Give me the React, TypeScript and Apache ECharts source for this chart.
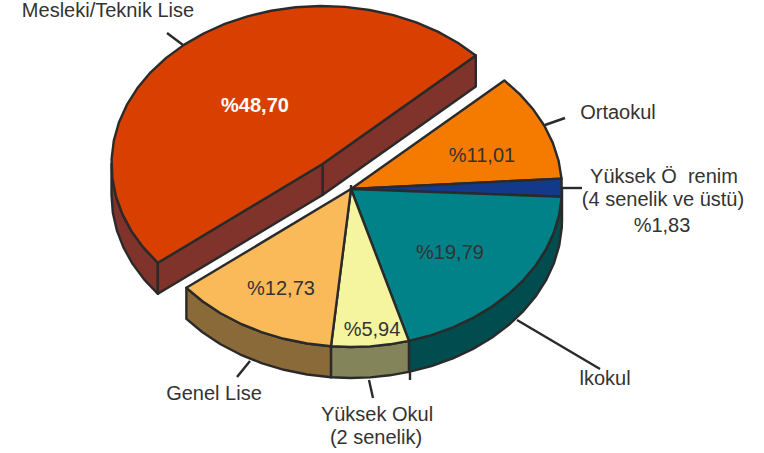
import React, { useEffect, useRef } from "react";
import * as echarts from "echarts";

const categories = ["Ortaokul", "Yüksek Ö  renim", "İlkokul", "Yüksek Okul", "Genel Lise", "Mesleki/Teknik Lise"];
const values = [11.01, 1.83, 19.79, 5.94, 12.73, 48.7];
const topColors = ["#F57A00", "#13398A", "#008288", "#F5F5A0", "#FABA5A", "#D94000"];
const sideColors = ["#7A3D00", "#0A1C45", "#004C4E", "#84845A", "#8A6A38", "#80332A"];
const valueLabelAt = [[482, 155], [662, 225], [450, 252], [372, 329], [281, 288], [255, 105]];
const valueLabelColors = ["#333333", "#333333", "#333333", "#333333", "#333333", "#FFFFFF"];
const nameLabels: [string, number, number][] = [
  ["Mesleki/Teknik Lise", 108, 10],
  ["Ortaokul", 618, 112],
  ["Yüksek Ö  renim", 664, 176],
  ["(4 senelik ve üstü)", 663, 199],
  ["lkokul", 605, 378],
  ["Genel Lise", 214, 393],
  ["Yüksek Okul", 377, 414],
  ["(2 senelik)", 376, 437],
];
const leaders = [
  [[167, 33], [183, 45]],
  [[545, 125], [565, 118]],
  [[562, 188], [582, 188]],
  [[517, 320], [600, 369]],
  [[250, 361], [237, 377]],
  [[369, 380], [373, 398]],
  [[410, 372], [410, 380]],
  [[351, 185], [351, 190]],
];

const CX = 351, CY = 189, RX = 211, RY = 158, DEPTH = 31;
const START = 43.4;
const EXPLODE = [0, 0, 0, 0, 0, 1];
const OFFSET = [-28.5, -25];
const STROKE = "#2a2a2a";
const LINE_WIDTH = 2.4;
const FONT = "20px 'Liberation Sans', Arial, sans-serif";

const total = values.reduce((a, b) => a + b, 0);
function span(i: number) {
  let before = 0;
  for (let k = 0; k < i; k++) before += values[k];
  const a0 = START - (before / total) * 360;
  return [a0, a0 - (values[i] / total) * 360];
}
function centre(i: number) {
  return EXPLODE[i] ? [CX + OFFSET[0], CY + OFFSET[1]] : [CX, CY];
}
function pt(c: number[], deg: number, dy = 0) {
  const r = (deg * Math.PI) / 180;
  return [c[0] + RX * Math.cos(r), c[1] - RY * Math.sin(r) + dy];
}
function arc(c: number[], from: number, to: number, dy = 0) {
  const n = Math.max(1, Math.ceil(Math.abs(to - from) / 7));
  const out: number[][] = [];
  for (let k = 0; k <= n; k++) out.push(pt(c, from + ((to - from) * k) / n, dy));
  return out;
}
const wall = (points: number[][], fill: string) => ({
  type: "polygon",
  shape: { points },
  style: { fill, stroke: STROKE, lineWidth: LINE_WIDTH, lineJoin: "round" },
});

function renderSides(_p: any, api: any) {
  const i = api.value(0);
  const [a0, a1] = span(i);
  const c = centre(i);
  const fill = sideColors[i];
  const children: any[] = [];
  // outer rim: only the part of the arc that faces the viewer (between 0 and -180 degrees)
  const from = Math.min(a0, 0);
  const to = Math.max(a1, -180);
  if (from > to) {
    const upper = arc(c, from, to);
    const lower = arc(c, to, from, DEPTH);
    children.push(wall([...upper, ...lower], fill));
  }
  if (EXPLODE[i]) {
    // cut faces of the pulled-out slice
    const e0 = pt(c, a0);
    const e1 = pt(c, a1);
    children.push(wall([e1, c, [c[0], c[1] + DEPTH], [e1[0], e1[1] + DEPTH]], fill));
    children.push(wall([c, e0, [e0[0], e0[1] + DEPTH], [c[0], c[1] + DEPTH]], fill));
  }
  return { type: "group", children };
}

function renderTops(_p: any, api: any) {
  const i = api.value(0);
  const [a0, a1] = span(i);
  const c = centre(i);
  return wall([c, ...arc(c, a0, a1)], topColors[i]);
}

function renderValueLabels(_p: any, api: any) {
  const i = api.value(0);
  const v = api.value(1);
  return {
    type: "text",
    style: {
      text: "%" + v.toFixed(2).replace(".", ","),
      x: valueLabelAt[i][0],
      y: valueLabelAt[i][1],
      fill: valueLabelColors[i],
      font: (i === 5 ? "bold " : "") + FONT,
      textAlign: "center",
      textVerticalAlign: "middle",
    },
  };
}

export default function App() {
  const ref = useRef<HTMLDivElement>(null);
  useEffect(() => {
    const chart = echarts.init(ref.current!, undefined, { renderer: "svg" });
    const data = values.map((v, i) => ({ name: categories[i], value: [i, v] }));
    chart.setOption({
      animation: false,
      backgroundColor: "#ffffff",
      series: [
        { type: "custom", coordinateSystem: "none", renderItem: renderSides, data, z: 2, silent: true },
        { type: "custom", coordinateSystem: "none", renderItem: renderTops, data, z: 3, silent: true },
        { type: "custom", coordinateSystem: "none", renderItem: renderValueLabels, data, z: 5, silent: true },
      ],
      graphic: [
        ...leaders.map((l) => ({
          type: "polyline",
          z: 1,
          shape: { points: l },
          style: { stroke: STROKE, lineWidth: LINE_WIDTH, fill: "none" },
        })),
        ...nameLabels.map(([text, x, y]) => ({
          type: "text",
          z: 6,
          x,
          y,
          style: { text, fill: "#333333", font: FONT, textAlign: "center", textVerticalAlign: "middle" },
        })),
      ],
    });
    return () => chart.dispose();
  }, []);
  return <div ref={ref} style={{ position: "absolute", left: 0, top: 0, width: 764, height: 453 }} />;
}
